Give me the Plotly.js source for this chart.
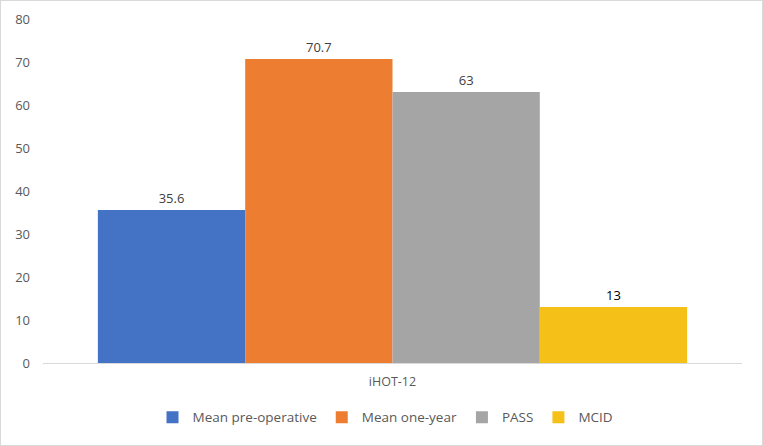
<!DOCTYPE html>
<html><head><meta charset="utf-8">
<script src="https://cdn.plot.ly/plotly-3.0.1.min.js"></script>
<style>
html,body{margin:0;padding:0;background:#fff;}
#chart{width:763px;height:446px;box-sizing:border-box;border:1px solid #d9d9d9;}
</style></head>
<body><div id="chart"></div>
<script>
const categories = ['iHOT-12'];
const seriesNames = ['Mean pre-operative','Mean one-year','PASS','MCID'];
const meanPreOperative = [35.6];
const meanOneYear = [70.7];
const pass = [63];
const mcid = [13];
const labels = [['35.6'],['70.7'],['63'],['13']];
const colors = ['#4472c4','#ed7d31','#a5a5a5','#f5c018'];
const values = [meanPreOperative, meanOneYear, pass, mcid];
const traces = values.map((v,i)=>({
  type:'bar', x:categories, y:v, name:seriesNames[i],
  marker:{color:colors[i]}, text:labels[i], textposition:'outside',
  textfont:{size:13,color: i===3 ? '#000000' : '#404040', family:'Open Sans, sans-serif'},
  cliponaxis:false, hoverinfo:'none'
}));
const layout = {
  width:761, height:444,
  margin:{l:42,r:20,t:18,b:82},
  barmode:'group', bargap:0.157, bargroupgap:0,
  paper_bgcolor:'#fff', plot_bgcolor:'#fff',
  font:{family:'Open Sans, sans-serif', size:13, color:'#595959'},
  xaxis:{showgrid:false, showline:true, linecolor:'#d9d9d9', linewidth:1, ticks:'', ticklabelstandoff:7, tickfont:{size:12.5,color:'#595959'}},
  yaxis:{range:[0,80], dtick:10, showgrid:false, zeroline:false, showline:false, ticks:'', ticklabelstandoff:12, tickfont:{size:13,color:'#595959'}},
  showlegend:true,
  legend:{orientation:'h', x:0.49, xanchor:'center', y:-0.158, yanchor:'middle', font:{size:13.5,color:'#595959'}, itemwidth:30, tracegroupgap:0}
};
Plotly.newPlot('chart', traces, layout, {displayModeBar:false, staticPlot:true});
</script></body></html>
